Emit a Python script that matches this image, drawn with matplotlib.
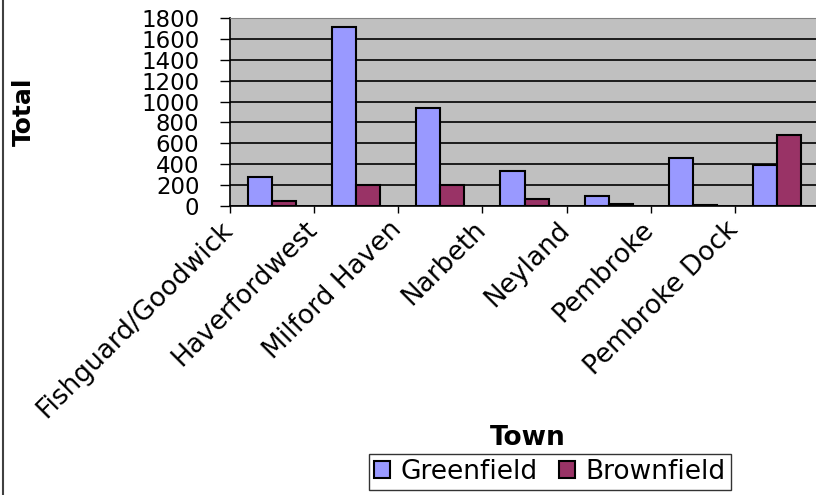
import numpy as np
import matplotlib
matplotlib.use('Agg')
import matplotlib.pyplot as plt
from matplotlib.lines import Line2D
from matplotlib.transforms import ScaledTranslation

# 数据
towns = ['Fishguard/Goodwick', 'Haverfordwest', 'Milford Haven', 'Narbeth',
         'Neyland', 'Pembroke', 'Pembroke Dock']
greenfield = [280, 1715, 935, 335, 95, 460, 390]
brownfield = [50, 200, 200, 65, 15, 12, 680]
yticks = [0, 200, 400, 600, 800, 1000, 1200, 1400, 1600, 1800]

plt.rcParams['font.family'] = ['DejaVu Sans']

W, H = 816, 495
fig = plt.figure(figsize=(W / 100, H / 100), dpi=100)
# 绘图区像素位置 (左 230, 右 819, 上 18, 下 206)
ax = fig.add_axes([230 / W, 1 - 206 / H, (819 - 230) / W, (206 - 18) / H])
ax.set_facecolor('#C0C0C0')

x = np.arange(len(towns))
bw = 0.286
ax.bar(x - bw / 2, greenfield, bw, color='#9999FF', edgecolor='black',
       linewidth=1.5, label='Greenfield', zorder=3)
ax.bar(x + bw / 2, brownfield, bw, color='#993366', edgecolor='black',
       linewidth=1.5, label='Brownfield', zorder=3)

ax.set_xlim(-0.5, len(towns) - 0.5)
ax.set_ylim(0, 1800)
ax.set_yticks(yticks)
ax.yaxis.grid(True, color='black', linewidth=1.2, zorder=1)
ax.tick_params(axis='y', labelsize=16.5, length=7, width=1, pad=15)

# 类别标签放在分隔刻度处（与原图一致）
ax.set_xticks(x - 0.5)
ax.set_xticklabels(towns, rotation=45, ha='right', va='top',
                   rotation_mode='anchor', fontsize=19)
ax.set_xticks([len(towns) - 0.5], minor=True)
ax.tick_params(axis='x', which='both', length=5, width=1, pad=4)
shift = ScaledTranslation(-0.10, 0.02, fig.dpi_scale_trans)
for lbl in ax.get_xticklabels():
    lbl.set_transform(lbl.get_transform() + shift)

for s in ['top', 'right']:
    ax.spines[s].set_color('#808080')
ax.spines['left'].set_linewidth(1.2)
ax.spines['bottom'].set_linewidth(1.2)

fig.text(24 / W, 1 - 112 / H, 'Total', rotation=90, fontsize=18,
         fontweight='bold', ha='center', va='center')
fig.text(528 / W, 1 - 438 / H, 'Town', fontsize=19, fontweight='bold',
         ha='center', va='center')

leg = fig.legend(loc='center', bbox_to_anchor=(550 / W, 1 - 472 / H), ncol=2,
                 fontsize=19, frameon=True, fancybox=False, edgecolor='black',
                 handlelength=0.6, handleheight=0.6, handletextpad=0.4,
                 columnspacing=0.8, borderpad=0.2, borderaxespad=0)
leg.get_frame().set_linewidth(1.0)

# 左侧图框线
fig.add_artist(Line2D([3 / W, 3 / W], [0, 1], color='#404040', linewidth=1.5))

fig.savefig('out.png', dpi=100)
